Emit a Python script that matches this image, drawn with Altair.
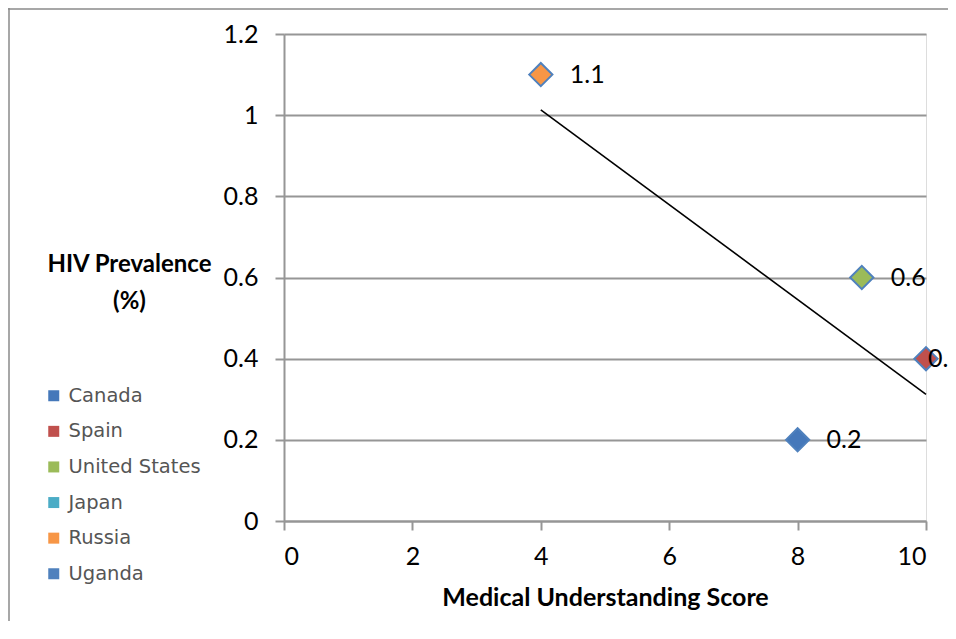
import altair as alt
import pandas as pd

# Legend categories and colours
countries = ["Canada", "Spain", "United States", "Japan", "Russia", "Uganda"]
country_colors = ["#4578BA", "#C0504D", "#9BBB59", "#4BACC6", "#F79646", "#4F81BD"]

# Plotted points
point_country = ["Canada", "Spain", "United States", "Russia"]
score = [8, 10, 9, 4]
prevalence = [0.2, 0.4, 0.6, 1.1]
point_label = ["0.2", "0.4", "0.6", "1.1"]

# Axis ticks
x_ticks = [0, 2, 4, 6, 8, 10]
y_ticks = [0, 0.2, 0.4, 0.6, 0.8, 1.0, 1.2]

df = pd.DataFrame({
    "country": point_country,
    "score": score,
    "prevalence": prevalence,
    "label": point_label,
})

FONT = "Lato"
GRID = "#969696"

x_enc = alt.X(
    "score:Q",
    scale=alt.Scale(domain=[0, 10], nice=False, zero=False),
    axis=alt.Axis(
        values=x_ticks, format="d", title="Medical Understanding Score",
        grid=False, domainColor=GRID, domainWidth=2, tickColor=GRID, tickWidth=2,
        tickSize=9, labelFontSize=25, labelFont=FONT, labelColor="black",
        labelPadding=14, titleFont=FONT, titleFontSize=25, titleFontWeight="bold",
        titleColor="black", titlePadding=16,
    ),
)
y_enc = alt.Y(
    "prevalence:Q",
    scale=alt.Scale(domain=[0, 1.2], nice=False),
    axis=alt.Axis(
        values=y_ticks, format="~g", title=["HIV Prevalence", "(%)"],
        grid=True, gridColor=GRID, gridWidth=2,
        domainColor=GRID, domainWidth=2, tickColor=GRID, tickWidth=2, tickSize=9,
        labelFontSize=25, labelFont=FONT, labelColor="black", labelPadding=17,
        titleFont=FONT, titleFontSize=24, titleFontWeight="bold", titleColor="black",
        titleAngle=0, titleAlign="center", titleBaseline="middle",
        titleX=-155, titleY=230, titleLineHeight=37,
    ),
)

base = alt.Chart(df)

trend = base.transform_regression("score", "prevalence").mark_line(
    color="black", strokeWidth=1.6
).encode(x=x_enc, y=y_enc)

points = base.mark_point(
    shape="diamond", filled=True, size=540, opacity=1, strokeWidth=2
).encode(
    x=x_enc,
    y=y_enc,
    fill=alt.Fill(
        "country:N",
        scale=alt.Scale(domain=countries, range=country_colors),
        legend=alt.Legend(
            title=None, orient="none", legendX=-240, legendY=352,
            symbolType="square", symbolSize=121, symbolStrokeWidth=0,
            labelFont="DejaVu Sans", labelFontSize=19.5, labelColor="#555555",
            rowPadding=14.6, labelOffset=5,
        ),
    ),
    stroke=alt.value("#4F81BD"),
)

labels = base.transform_filter("datum.score < 10").mark_text(
    align="left", baseline="middle", dx=29, fontSize=25, font=FONT, color="black"
).encode(x=x_enc, y=y_enc, text="label:N")

labels_edge = base.transform_filter("datum.score >= 10").mark_text(
    align="left", baseline="middle", dx=2, fontSize=25, font=FONT, color="black"
).encode(x=x_enc, y=y_enc, text="label:N")

frame_left = alt.Chart(pd.DataFrame({"k": [0]})).mark_rule(
    color="#8a8a8a", strokeWidth=1.5
).encode(x=alt.value(-275), y=alt.value(-30), y2=alt.value(640))

frame_top = alt.Chart(pd.DataFrame({"k": [0]})).mark_rule(
    color="#8a8a8a", strokeWidth=1.5
).encode(y=alt.value(-25), x=alt.value(-276), x2=alt.value(700))

chart = alt.layer(frame_left, frame_top, trend, points, labels, labels_edge).properties(
    width=642,
    height=487,
    padding={"left": 276, "top": 26, "right": 22, "bottom": 100},
    autosize=alt.AutoSizeParams(type="none"),
).configure_view(stroke=None).configure(background="white")

chart.save("out.html", embed_options={"renderer": "svg", "actions": False})
